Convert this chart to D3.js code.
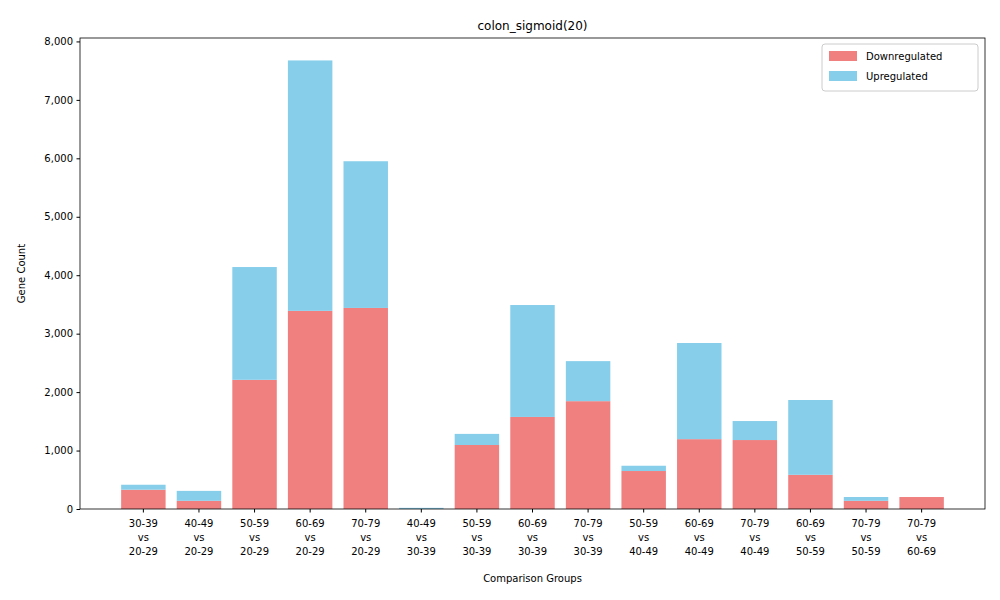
<!DOCTYPE html><html><head><meta charset="utf-8"><script src="https://cdn.jsdelivr.net/npm/d3@7"></script>
<style>body{margin:0;background:#fff}text{font-family:"DejaVu Sans",sans-serif}</style></head><body><svg id="c" width="1000" height="600"></svg><script>
const categories=[["30-39","20-29"],["40-49","20-29"],["50-59","20-29"],["60-69","20-29"],["70-79","20-29"],["40-49","30-39"],["50-59","30-39"],["60-69","30-39"],["70-79","30-39"],["50-59","40-49"],["60-69","40-49"],["70-79","40-49"],["60-69","50-59"],["70-79","50-59"],["70-79","60-69"]];
const down=[330,140,2210,3390,3440,0,1095,1575,1845,650,1195,1180,585,140,205];
const up=[85,170,1930,4285,2510,20,190,1915,685,90,1645,325,1280,65,0];
const yTicks=[0,1000,2000,3000,4000,5000,6000,7000,8000];
const svg=d3.select("#c");
const L=80,R=985,T=38,B=509;
const x=d3.scaleLinear().domain([-1.14,15.14]).range([L,R]);
const total=down.map((d,i)=>d+up[i]);
const y=d3.scaleLinear().domain([0,d3.max(total)*1.05]).range([B,T]);
const w=x(0.4)-x(-0.4);
svg.append("g").selectAll("rect").data(down).join("rect").attr("x",(d,i)=>x(i)-w/2).attr("width",w).attr("y",d=>y(d)).attr("height",d=>B-y(d)).attr("fill","#f08080");
svg.append("g").selectAll("rect").data(up).join("rect").attr("x",(d,i)=>x(i)-w/2).attr("width",w).attr("y",(d,i)=>y(d+down[i])).attr("height",d=>B-y(d)).attr("fill","#87ceeb");
svg.append("rect").attr("x",L).attr("y",T).attr("width",R-L).attr("height",B-T).attr("fill","none").attr("stroke","#000").attr("stroke-width",0.8);
const ya=svg.append("g").attr("transform",`translate(${L},0)`).call(d3.axisLeft(y).tickValues(yTicks).tickSize(3.5).tickPadding(3.5));
ya.select(".domain").remove();ya.selectAll("text").attr("font-size",10).attr("fill","#000");
const xa=svg.append("g");
categories.forEach((c,i)=>{xa.append("line").attr("x1",x(i)).attr("x2",x(i)).attr("y1",B).attr("y2",B+3.5).attr("stroke","#000");
 const t=xa.append("text").attr("text-anchor","middle").attr("font-size",10).attr("x",x(i));
 [c[0],"vs",c[1]].forEach((s,k)=>t.append("tspan").attr("x",x(i)).attr("y",B+18+k*14).text(s));});
svg.append("text").attr("x",(L+R)/2).attr("y",582).attr("text-anchor","middle").attr("font-size",10).text("Comparison Groups");
svg.append("text").attr("transform",`translate(25,${(T+B)/2}) rotate(-90)`).attr("text-anchor","middle").attr("font-size",10).text("Gene Count");
svg.append("text").attr("x",(L+R)/2).attr("y",30).attr("text-anchor","middle").attr("font-size",12).text("colon_sigmoid(20)");
const lg=svg.append("g");
lg.append("rect").attr("x",822).attr("y",44).attr("width",156).attr("height",47).attr("rx",3).attr("fill","#fff").attr("stroke","#ccc");
[["Downregulated","#f08080"],["Upregulated","#87ceeb"]].forEach((s,k)=>{lg.append("rect").attr("x",829).attr("y",51+k*20).attr("width",28).attr("height",10).attr("fill",s[1]);
lg.append("text").attr("x",866).attr("y",60+k*20).attr("font-size",10).text(s[0]);});
</script></body></html>
